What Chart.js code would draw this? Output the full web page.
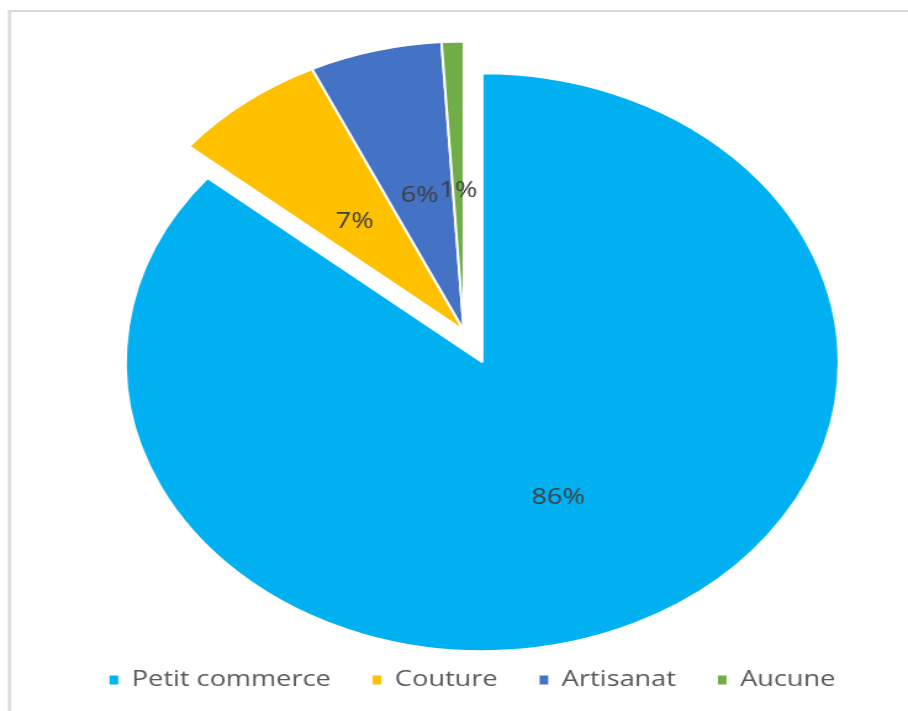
<!DOCTYPE html>
<html lang="fr">
<head>
<meta charset="utf-8">
<title>Répartition des activités</title>
<script src="https://cdn.jsdelivr.net/npm/chart.js@4/dist/chart.umd.min.js"></script>
<style>
  html, body { margin: 0; padding: 0; background: #ffffff; overflow: hidden; }
  /* The chart is laid out on a 736px-wide canvas and widened to 908px. */
  #wrap { width: 736px; height: 711px; transform: scaleX(1.233696); transform-origin: 0 0; }
  #chart { display: block; width: 736px; height: 711px; }
</style>
</head>
<body>
<div id="wrap"><canvas id="chart" width="736" height="711"></canvas></div>
<script>
// Activity categories and their shares (%)
const categories = ['Petit commerce', 'Couture', 'Artisanat', 'Aucune'];
const shares = [86, 7, 6, 1];
const sliceColors = ['#00B0F0', '#FFC000', '#4472C4', '#70AD47'];

// Slice pulled out of the pie, and how far (px)
const explodedIndex = 0;
const explodeDistance = 35;

// Horizontal nudge of the legend row (px)
const legendShift = 7;

const FONT = "'Open Sans', 'DejaVu Sans', sans-serif";

// Light frame along the top and left edges
const framePlugin = {
  id: 'frame',
  beforeDraw(chart) {
    const ctx = chart.ctx;
    ctx.save();
    ctx.fillStyle = '#ffffff';
    ctx.fillRect(0, 0, chart.width, chart.height);
    ctx.fillStyle = '#d9d9d9';
    ctx.fillRect(6.5, 10, chart.width, 2);
    ctx.fillRect(6.5, 10, 2.4, chart.height);
    ctx.restore();
  }
};

// Moves the exploded slice outward along its bisector
const explodePlugin = {
  id: 'explode',
  afterDatasetUpdate(chart, args) {
    const arc = args.meta.data[explodedIndex];
    if (!arc) return;
    const mid = (arc.startAngle + arc.endAngle) / 2;
    arc.x += Math.cos(mid) * explodeDistance;
    arc.y += Math.sin(mid) * explodeDistance;
  },
  afterLayout(chart) {
    if (chart.legend) {
      chart.legend.left += legendShift;
      chart.legend.right += legendShift;
    }
  }
};

// Percentage labels in the middle of each slice
const valueLabelPlugin = {
  id: 'valueLabels',
  afterDatasetsDraw(chart) {
    const ctx = chart.ctx;
    const meta = chart.getDatasetMeta(0);
    const values = chart.data.datasets[0].data;
    const total = values.reduce((a, b) => a + b, 0);
    ctx.save();
    ctx.font = '22px ' + FONT;
    ctx.fillStyle = '#404040';
    ctx.textAlign = 'center';
    ctx.textBaseline = 'middle';
    meta.data.forEach((arc, i) => {
      const p = arc.getCenterPoint();
      ctx.fillText(Math.round(values[i] / total * 100) + '%', p.x, p.y + 5);
    });
    ctx.restore();
  }
};

new Chart(document.getElementById('chart'), {
  type: 'pie',
  data: {
    labels: categories,
    datasets: [{
      data: shares,
      backgroundColor: sliceColors,
      borderColor: '#ffffff',
      borderWidth: 2
    }]
  },
  options: {
    responsive: false,
    animation: false,
    events: [],
    radius: 289,
    layout: { padding: { left: 22, right: 6, top: 26, bottom: 10 } },
    plugins: {
      tooltip: { enabled: false },
      legend: {
        position: 'bottom',
        labels: {
          boxWidth: 7,
          boxHeight: 9,
          padding: 34,
          color: '#595959',
          font: { family: FONT, size: 22 },
          generateLabels(chart) {
            const items = Chart.overrides.pie.plugins.legend.labels.generateLabels(chart);
            items.forEach(it => { it.lineWidth = 0; it.strokeStyle = 'rgba(0,0,0,0)'; });
            return items;
          }
        }
      }
    }
  },
  plugins: [framePlugin, explodePlugin, valueLabelPlugin]
});
</script>
</body>
</html>
